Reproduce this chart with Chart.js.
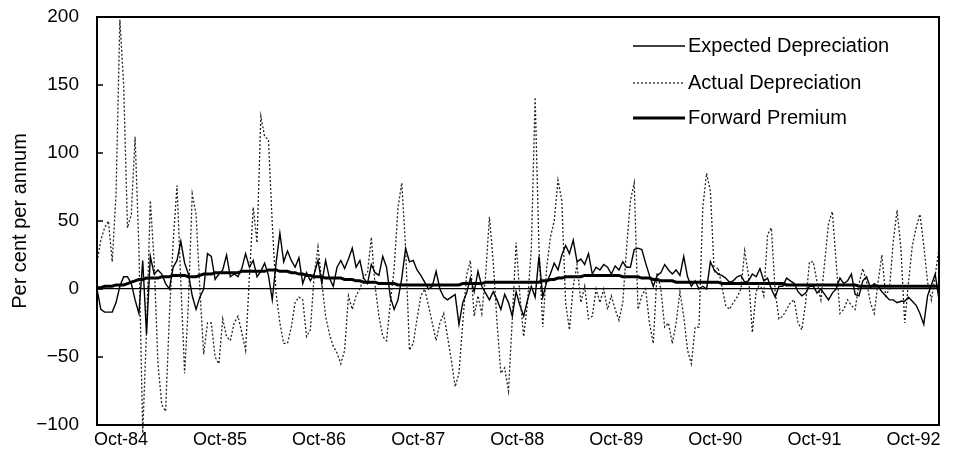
<!DOCTYPE html>
<html>
<head>
<meta charset="utf-8">
<script src="https://cdn.jsdelivr.net/npm/chart.js@4.4.1/dist/chart.umd.min.js"></script>
<style>
  html, body { margin: 0; padding: 0; background: #fff; }
  #chart { display: block; }
</style>
</head>
<body>
<canvas id="chart" width="957" height="469"></canvas>
<script>
// fortnightly observations, week 0 = mid-July 1984
var STEP_WEEKS = 2;

var tickWeeks = [12.6, 64.6, 116.6, 168.6, 220.6, 272.6, 324.6, 376.6, 428.6];
var tickLabels = ["Oct-84", "Oct-85", "Oct-86", "Oct-87", "Oct-88", "Oct-89", "Oct-90", "Oct-91", "Oct-92"];
var yTicks = [-100, -50, 0, 50, 100, 150, 200];

var expectedDep = [
  0, -15, -17, -17, -17, -10, 2, 9, 9, 4,
  -8, -18, 21, -33, 24, 11, 14, 11, 4, 0,
  16, 21, 35, 19, 11, -5, -15, -6, 0, 26,
  24, 7, 11, 14, 25, 9, 11, 9, 15, 26,
  16, 21, 9, 13, 19, 10, -8, 19, 41, 20,
  28, 21, 16, 23, 4, 12, 6, 11, 21, 4,
  21, 8, 2, 16, 21, 15, 22, 30, 16, 21,
  8, 4, 18, 12, 10, 24, 16, -6, -15, -8,
  8, 30, 20, 21, 14, 10, 5, 0, 2, 13,
  0, -6, -8, -6, -4, -26, -10, -3, 8, -2,
  13, 2, -3, -8, -2, -8, -15, -4, -10, -20,
  -2, -12, -20, -8, 2, -6, 24, -6, 5, 11,
  19, 14, 25, 32, 26, 36, 20, 22, 18, 26,
  11, 16, 14, 18, 16, 11, 17, 14, 20, 16,
  16, 29, 30, 29, 19, 10, 2, 10, 12, 18,
  14, 11, 14, 10, 24, 9, 2, 6, 0, 2,
  0, 20, 14, 11, 10, 8, 5, 6, 9, 10,
  5, 6, 11, 9, 15, 6, 8, 0, -6, 2,
  2, 8, 6, 4, -2, -5, -3, 2, 2, -3,
  0, -4, -8, -3, 0, 8, 4, 6, 11, -4,
  -5, 6, 9, 1, 4, 2, -2, -5, -8, -8,
  -10, -9, -9, -6, -9, -12, -18, -26, -5, 3,
  11, -8
];

var actualDep = [
  20, 36, 45, 50, 20, 70, 198, 150, 45, 55,
  112, 30, -106, -30, 65, 20, -55, -85, -90, -20,
  35, 76, 5, -62, -10, 70, 55, 0, -48, -25,
  -25, -50, -55, -22, -35, -38, -25, -20, -32, -45,
  9, 60, 34, 127, 112, 110, 48, -3, -25, -40,
  -40, -28, -10, -6, -8, -35, -30, 10, 31, 5,
  -20, -33, -42, -47, -55, -45, -5, -15, -5, 0,
  9, 12, 38, 2, -20, -35, -38, -10, 15, 60,
  78, 30, -45, -40, -22, -5, 0, -12, -25, -38,
  -25, -18, -35, -52, -72, -62, -25, 10, 21, -20,
  -5, -18, 10, 53, 20, -25, -62, -58, -75, -22,
  34, -5, -35, -10, 30, 141, 30, -28, 15, 38,
  50, 80, 65, -10, -30, 2, 18, -10, 2, -22,
  -20, 0, -10, 0, -15, -5, -15, -23, -10, 30,
  65, 78, -15, -5, 0, -25, -40, 12, 0, -28,
  -25, -40, -25, -2, -20, -45, -55, -28, -28, 60,
  85, 72, 12, 16, 2, -12, -15, -10, -6, 0,
  28, 10, -32, -2, 4, -5, 40, 45, -2, -22,
  -20, -15, -10, -8, -25, -30, -10, 20, 20, 5,
  -8, 20, 48, 57, 20, -18, -15, -8, -12, -15,
  4, 15, 5, -10, -18, 5, 25, -5, 0, 35,
  58, 30, -25, 5, 32, 45, 55, 32, 5, -8,
  10, 30
];

var forwardPrem = [
  1, 1, 2, 2, 2, 3, 3, 3, 4, 5,
  6, 7, 7, 8, 8, 8, 8, 9, 9, 9,
  10, 10, 10, 10, 9, 9, 9, 10, 11, 11,
  11, 12, 12, 12, 12, 12, 12, 12, 13, 13,
  13, 13, 13, 13, 13, 14, 14, 14, 13, 13,
  13, 12, 12, 11, 11, 10, 10, 9, 9, 9,
  8, 8, 8, 8, 8, 7, 7, 7, 6, 6,
  5, 5, 5, 5, 4, 4, 4, 4, 4, 3,
  3, 3, 3, 3, 3, 3, 3, 3, 3, 3,
  3, 3, 3, 3, 3, 3, 4, 4, 4, 4,
  4, 4, 5, 5, 5, 5, 5, 5, 5, 5,
  5, 5, 5, 5, 5, 5, 5, 6, 6, 7,
  7, 8, 8, 9, 9, 9, 9, 9, 10, 10,
  10, 10, 10, 10, 10, 10, 10, 10, 9, 9,
  9, 9, 9, 8, 8, 8, 7, 7, 6, 6,
  6, 6, 5, 5, 5, 5, 5, 5, 5, 5,
  5, 5, 5, 5, 4, 4, 4, 4, 4, 4,
  4, 4, 4, 4, 4, 4, 4, 4, 4, 4,
  4, 3, 3, 3, 3, 3, 3, 3, 3, 3,
  3, 3, 3, 3, 3, 3, 3, 3, 3, 3,
  2, 2, 2, 2, 2, 2, 2, 2, 2, 2,
  2, 2, 2, 2, 2, 2, 2, 2, 2, 2,
  2, 2
];

var FONT = "'Liberation Sans', Arial, Helvetica, sans-serif";

function toPoints(arr) {
  return arr.map(function (v, i) { return { x: i * STEP_WEEKS, y: v }; });
}

// frame, inward y ticks and the in-plot legend
var framePlugin = {
  id: "frame",
  afterDraw: function (chart) {
    var ctx = chart.ctx, a = chart.chartArea, y = chart.scales.y;
    ctx.save();
    ctx.strokeStyle = "#000";
    ctx.lineWidth = 2;
    ctx.strokeRect(a.left, a.top, a.right - a.left, a.bottom - a.top);
    ctx.lineWidth = 1.5;
    yTicks.forEach(function (v) {
      var py = y.getPixelForValue(v);
      ctx.beginPath();
      ctx.moveTo(a.left, py);
      ctx.lineTo(a.left + 6, py);
      ctx.stroke();
    });

    var x0 = a.right - 306, rowY = [a.top + 29, a.top + 66, a.top + 101];
    ctx.font = "20px " + FONT;
    ctx.fillStyle = "#000";
    ctx.textBaseline = "middle";
    chart.data.datasets.forEach(function (ds, i) {
      ctx.beginPath();
      ctx.lineWidth = ds.borderWidth;
      ctx.strokeStyle = ds.borderColor;
      ctx.setLineDash(ds.borderDash || []);
      ctx.moveTo(x0, rowY[i]);
      ctx.lineTo(x0 + 52, rowY[i]);
      ctx.stroke();
      ctx.setLineDash([]);
      ctx.fillText(ds.label, x0 + 55, rowY[i]);
    });
    ctx.restore();
  }
};

new Chart(document.getElementById("chart").getContext("2d"), {
  type: "line",
  data: {
    datasets: [
      {
        label: "Expected Depreciation",
        data: toPoints(expectedDep),
        borderColor: "#000",
        borderWidth: 1.4,
        pointRadius: 0,
        tension: 0
      },
      {
        label: "Actual Depreciation",
        data: toPoints(actualDep),
        borderColor: "#222",
        borderWidth: 1.3,
        borderDash: [2, 2],
        pointRadius: 0,
        tension: 0,
        clip: 12
      },
      {
        label: "Forward Premium",
        data: toPoints(forwardPrem),
        borderColor: "#000",
        borderWidth: 3,
        pointRadius: 0,
        tension: 0
      }
    ]
  },
  options: {
    responsive: false,
    animation: false,
    devicePixelRatio: 1,
    layout: { padding: { top: 17, right: 18, left: 0, bottom: 0 } },
    plugins: { legend: { display: false }, tooltip: { enabled: false } },
    scales: {
      x: {
        type: "linear",
        min: 0,
        max: 442,
        afterBuildTicks: function (scale) {
          scale.ticks = tickWeeks.map(function (w) { return { value: w }; });
        },
        afterFit: function (scale) {
          scale.height = 44;
          scale.paddingLeft = 0;
          scale.paddingRight = 0;
        },
        grid: { display: false, drawTicks: false },
        border: { display: false },
        ticks: {
          autoSkip: false,
          maxRotation: 0,
          padding: 4,
          color: "#000",
          font: { size: 18, family: FONT },
          callback: function (v, i) { return tickLabels[i]; }
        }
      },
      y: {
        min: -100,
        max: 200,
        afterBuildTicks: function (scale) {
          scale.ticks = yTicks.map(function (v) { return { value: v }; });
        },
        afterFit: function (scale) {
          scale.width = 97;
          scale.paddingTop = 0;
          scale.paddingBottom = 0;
        },
        grid: {
          drawTicks: false,
          lineWidth: 1.2,
          color: function (c) { return c.tick && c.tick.value === 0 ? "#000" : "rgba(0,0,0,0)"; }
        },
        border: { display: false },
        ticks: {
          padding: 18,
          color: "#000",
          font: { size: 19, family: FONT },
          callback: function (v) { return v < 0 ? "\u2212" + Math.abs(v) : String(v); }
        },
        title: {
          display: true,
          text: "Per cent per annum",
          color: "#000",
          font: { size: 20, family: FONT },
          padding: { top: 8, bottom: 0 }
        }
      }
    }
  },
  plugins: [framePlugin]
});
</script>
</body>
</html>
